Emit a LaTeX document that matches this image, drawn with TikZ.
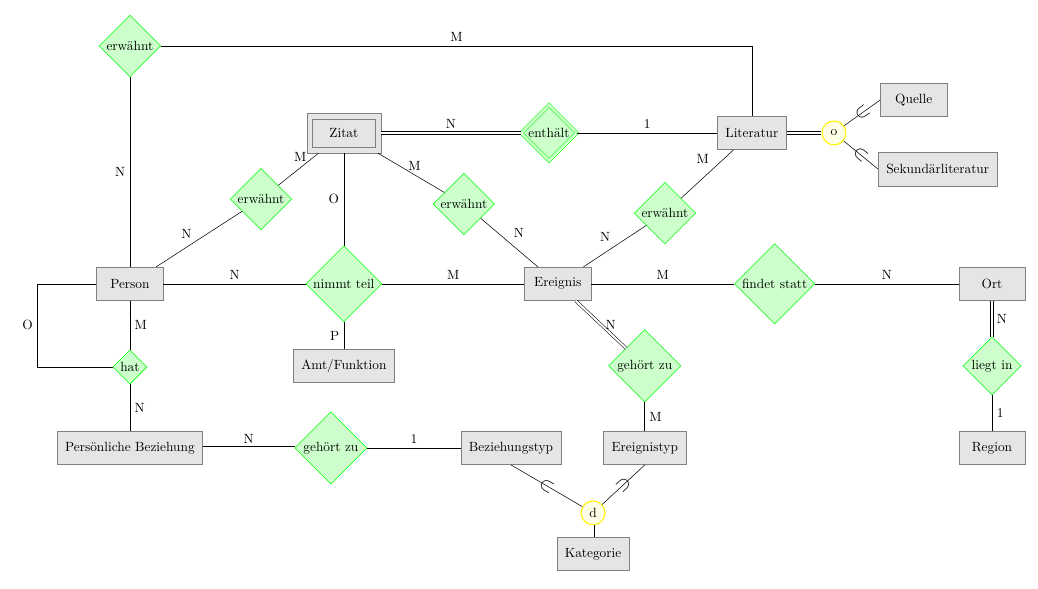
\documentclass[tikz,border=0pt]{standalone}
\usepackage{tikz}
\usetikzlibrary{shapes.geometric}

\begin{document}
\begin{tikzpicture}[
        entity/.style={rectangle, draw=gray, fill=gray!20, minimum width=1.75cm, minimum height=0.88cm, inner xsep=6pt},
        weakentity/.style={entity, minimum width=1.95cm, minimum height=1.05cm},
        relation/.style={diamond, aspect=1, draw=green, fill=green!20, inner sep=1pt},
        weakrelation/.style={relation, double=green!20, double distance=2pt},
        isa/.style={circle, draw=yellow, fill=yellow!10, thick, minimum size=0.63cm, inner sep=0pt},
        total/.style={double, double distance=1.5pt},
        subsetmark/.style={sloped, allow upside down, inner sep=0pt, scale=1.4}
    ]
        \useasboundingbox (0,0) rectangle (27.32,15.5);
        % entities
        \node[weakentity] (Zitat) at (9.05,12.0) {Zitat};
        \draw[gray] ([shift={(4.5pt,4.5pt)}]Zitat.south west) rectangle ([shift={(-4.5pt,-4.5pt)}]Zitat.north east);
        \node[entity] (Literatur) at (19.79,12.0) {Literatur};
        \node[entity] (Quelle) at (24.05,12.87) {Quelle};
        \node[entity] (Sekundaer) at (24.68,11.05) {Sekundärliteratur};
        \node[entity] (Person) at (3.42,8.03) {Person};
        \node[entity] (Ereignis) at (14.68,8.03) {Ereignis};
        \node[entity] (Ort) at (26.11,8.03) {Ort};
        \node[entity] (Amt) at (9.05,5.87) {Amt/Funktion};
        \node[entity] (PersBez) at (3.42,3.71) {Persönliche Beziehung};
        \node[entity] (BezTyp) at (13.45,3.71) {Beziehungstyp};
        \node[entity] (EregTyp) at (16.97,3.71) {Ereignistyp};
        \node[entity] (Region) at (26.11,3.71) {Region};
        \node[entity] (Kategorie) at (15.61,0.92) {Kategorie};
        % relations
        \node[relation] (erwTop) at (3.42,14.29) {erwähnt};
        \node[weakrelation] (enthaelt) at (14.45,12.0) {enthält};
        \node[relation] (erwPZ) at (6.87,10.26) {erwähnt};
        \node[relation] (erwZE) at (12.21,10.13) {erwähnt};
        \node[relation] (erwLE) at (17.5,9.89) {erwähnt};
        \node[relation] (nimmt) at (9.05,8.03) {nimmt teil};
        \node[relation] (findet) at (20.39,8.03) {findet statt};
        \node[relation] (hat) at (3.42,5.84) {hat};
        \node[relation] (gehoertE) at (16.97,5.87) {gehört zu};
        \node[relation] (liegt) at (26.11,5.87) {liegt in};
        \node[relation] (gehoertP) at (8.71,3.71) {gehört zu};
        % specialisations
        \node[isa] (isaLit) at (21.95,12.0) {o};
        \node[isa] (isaKat) at (15.61,2.0) {d};
        % connectors with cardinalities
        \draw (erwTop) -- (Person) node[midway,left] {N};
        \draw (erwTop) -| (Literatur) node[pos=0.25,above] {M};
        \draw[total] (Zitat) -- (enthaelt) node[midway,above] {N};
        \draw (enthaelt) -- (Literatur) node[midway,above] {1};
        \draw (Zitat) -- (erwPZ) node[pos=0.12,left=2pt] {M};
        \draw (erwPZ) -- (Person) node[pos=0.55,above left=-1pt] {N};
        \draw (Zitat) -- (erwZE) node[pos=0.55,above] {M};
        \draw (Zitat) -- (nimmt) node[midway,left] {O};
        \draw (erwZE) -- (Ereignis) node[pos=0.5,above right] {N};
        \draw (Literatur) -- (erwLE) node[pos=0.38,above left] {M};
        \draw (erwLE) -- (Ereignis) node[pos=0.5,above left] {N};
        \draw (Person) -- (nimmt) node[midway,above] {N};
        \draw (nimmt) -- (Ereignis) node[midway,above] {M};
        \draw (nimmt) -- (Amt) node[midway,left] {P};
        \draw (Ereignis) -- (findet) node[midway,above] {M};
        \draw (findet) -- (Ort) node[midway,above] {N};
        \draw[total] (Ort) -- (liegt) node[midway,right] {N};
        \draw (liegt) -- (Region) node[midway,right] {1};
        \draw (Person) -- (hat) node[midway,right] {M};
        \draw (hat) -- (PersBez) node[midway,right] {N};
        \draw (Person.west) -- ++(-1.55,0) |- (hat.west) node[pos=0.25,left] {O};
        \draw[total] (PersBez) -- (gehoertP) node[midway,above] {N};
        \draw (gehoertP) -- (BezTyp) node[midway,above] {1};
        \draw[total] (Ereignis) -- (gehoertE) node[midway,right] {N};
        \draw (gehoertE) -- (EregTyp) node[midway,right] {M};
        % specialisation links
        \draw[total] (Literatur) -- (isaLit);
        \draw (isaLit) -- node[subsetmark] {$\subset$} (Quelle.west);
        \draw (isaLit) -- node[subsetmark] {$\subset$} (Sekundaer.west);
        \draw (BezTyp.south) -- node[subsetmark] {$\subset$} (isaKat);
        \draw (EregTyp.south) -- node[subsetmark] {$\subset$} (isaKat);
        \draw[total] (isaKat) -- (Kategorie);
    \end{tikzpicture}
\end{document}
